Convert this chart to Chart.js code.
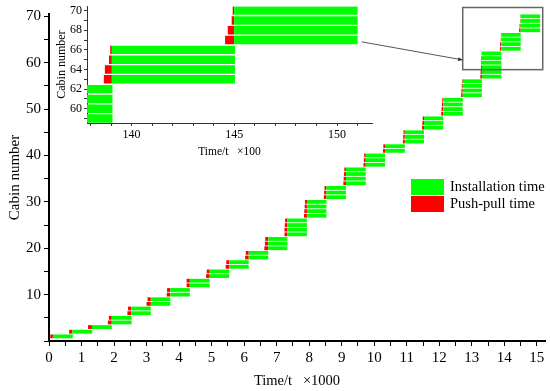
<!DOCTYPE html>
<html>
<head>
<meta charset="utf-8">
<script src="https://cdn.jsdelivr.net/npm/chart.js@4.4.0/dist/chart.umd.min.js"></script>
<style>
  body { margin: 0; background: #fff; }
  #wrap { position: relative; width: 550px; height: 391px; }
  #mainChart { position: absolute; left: 0; top: 0; }
  #insetChart { position: absolute; left: 55px; top: -3px; }
</style>
</head>
<body>
<div id="wrap">
  <canvas id="mainChart" width="550" height="391"></canvas>
  <canvas id="insetChart" width="325" height="163"></canvas>
</div>
<script>
// groups of cabins installed together (time in units of 1000 s)
const groupFirstCabin = [1, 2, 3, 4, 6, 8, 10, 12, 14, 16, 18, 20, 23, 27, 31, 34, 38, 41, 43, 46, 49, 53, 57, 63, 67];
const groupLastCabin  = [1, 2, 3, 5, 7, 9, 11, 13, 15, 17, 19, 22, 26, 30, 33, 37, 40, 42, 45, 48, 52, 56, 62, 66, 70];
const installStart = [0.12, 0.72, 1.32, 1.93, 2.53, 3.13, 3.73, 4.33, 4.94, 5.54, 6.14, 6.74, 7.33,
                      7.93, 8.53, 9.13, 9.74, 10.33, 10.94, 11.53, 12.12, 12.72, 13.31, 13.904, 14.499];
const installEnd   = [0.73, 1.33, 1.93, 2.54, 3.13, 3.73, 4.33, 4.94, 5.54, 6.14, 6.74, 7.33, 7.93,
                      8.53, 9.13, 9.74, 10.33, 10.94, 11.53, 12.12, 12.72, 13.31, 13.907, 14.503, 15.10];
// push-pull duration for cabin 1..70
const pushPullTime = [
  0.08, 0.10, 0.12,
  0.12, 0.09, 0.12, 0.10, 0.13, 0.10, 0.11, 0.10, 0.10, 0.10, 0.11, 0.09, 0.11, 0.09, 0.11, 0.09,
  0.12, 0.10, 0.09,
  0.09, 0.09, 0.08, 0.07,
  0.09, 0.08, 0.07, 0.06,
  0.08, 0.07, 0.06,
  0.08, 0.07, 0.06, 0.05,
  0.07, 0.06, 0.05,
  0.06, 0.05,
  0.06, 0.05, 0.04,
  0.06, 0.05, 0.04,
  0.06, 0.05, 0.04, 0.03,
  0.05, 0.04, 0.03, 0.02,
  0.05, 0.04, 0.03, 0.02, 0.02, 0.01,
  0.039, 0.034, 0.014, 0.008,
  0.044, 0.031, 0.012, 0.007
];
const xTicksMain = [0, 1, 2, 3, 4, 5, 6, 7, 8, 9, 10, 11, 12, 13, 14, 15];
const yTicksMain = [10, 20, 30, 40, 50, 60, 70];
const xTicksInset = [140, 145, 150];
const yTicksInset = [60, 62, 64, 66, 68, 70];

const GREEN = '#00ff00';
const RED = '#ff0000';
const FONT = "'Liberation Serif', 'Times New Roman', serif";

// build bars for each cabin
function buildBars(scale) {
    const install = [], push = [];
    groupFirstCabin.forEach((first, g) => {
        for (let c = first; c <= groupLastCabin[g]; c++) {
            const s = installStart[g] * scale;
            install.push({ x: [s, installEnd[g] * scale], y: c });
            push.push({ x: [s - pushPullTime[c - 1] * scale, s], y: c });
        }
    });
    return { install, push };
}

function axisStyle(fontSize, tickLen, lineW, color) {
    return {
        offset: false,
        border: { display: true, color: color, width: lineW },
        grid: { display: true, offset: false, drawOnChartArea: false, drawTicks: true, tickLength: tickLen, tickColor: color, tickWidth: 1 },
        ticks: { color: '#000', font: { family: FONT, size: fontSize }, padding: 2, includeBounds: false, autoSkip: false, maxRotation: 0 }
    };
}

// zoom box and connector on the main chart (data units)
const zoomBox = { x0: 12.72, x1: 15.18, y0: 58.5, y1: 71.9 };
const connector = { x0: 9.61, y0: 64.5, x1: 12.72, y1: 60.6 };

const annotatePlugin = {
    id: 'annotate',
    afterDraw(chart) {
        const { ctx, scales: { x, y } } = chart;
        ctx.save();
        ctx.strokeStyle = '#666';
        ctx.lineWidth = 1.5;
        const bx0 = x.getPixelForValue(zoomBox.x0), bx1 = x.getPixelForValue(zoomBox.x1);
        const by0 = y.getPixelForValue(zoomBox.y1), by1 = y.getPixelForValue(zoomBox.y0);
        ctx.strokeRect(bx0, by0, bx1 - bx0, by1 - by0);
        const ax = x.getPixelForValue(connector.x0), ay = y.getPixelForValue(connector.y0);
        const ex = x.getPixelForValue(connector.x1), ey = y.getPixelForValue(connector.y1);
        ctx.lineWidth = 1;
        ctx.strokeStyle = '#555';
        ctx.beginPath();
        ctx.moveTo(ax, ay);
        ctx.lineTo(ex, ey);
        ctx.stroke();
        const ang = Math.atan2(ey - ay, ex - ax);
        ctx.fillStyle = '#333';
        ctx.beginPath();
        ctx.moveTo(ex, ey);
        ctx.lineTo(ex - 5 * Math.cos(ang - 0.4), ey - 5 * Math.sin(ang - 0.4));
        ctx.lineTo(ex - 5 * Math.cos(ang + 0.4), ey - 5 * Math.sin(ang + 0.4));
        ctx.closePath();
        ctx.fill();

        // legend
        const items = [['Installation time', GREEN, 179], ['Push-pull time', RED, 196]];
        ctx.font = '14.5px ' + FONT;
        ctx.textBaseline = 'middle';
        items.forEach(([label, color, top]) => {
            ctx.fillStyle = color;
            ctx.fillRect(411, top, 33, 16);
            ctx.fillStyle = '#000';
            ctx.fillText(label, 450, top + 8);
        });
        ctx.restore();
    }
};

const mainBars = buildBars(1);
const mainX = axisStyle(15, 5, 2, '#000');
const mainY = axisStyle(15, 5, 2, '#000');

new Chart(document.getElementById('mainChart'), {
    type: 'bar',
    data: {
        datasets: [
            { label: 'Installation time', data: mainBars.install, backgroundColor: GREEN, grouped: false },
            { label: 'Push-pull time', data: mainBars.push, backgroundColor: RED, grouped: false }
        ]
    },
    options: {
        indexAxis: 'y',
        responsive: false,
        animation: false,
        barPercentage: 0.82,
        categoryPercentage: 1,
        layout: { padding: { left: 0, right: 5, top: 14, bottom: 0 } },
        plugins: { legend: { display: false }, tooltip: { enabled: false } },
        scales: {
            x: {
                type: 'linear', min: 0, max: 15.25,
                ...mainX,
                ticks: { ...mainX.ticks, stepSize: 0.5, padding: 3,
                    callback: v => xTicksMain.includes(v) ? String(v) : '' },
                title: { display: true, text: 'Time/t   \u00d71000', color: '#000',
                    font: { family: FONT, size: 14.5 }, padding: { top: 0, bottom: 1 } },
                afterFit: s => { s.height = 50; }
            },
            y: {
                type: 'linear', min: 0, max: 70.5,
                ...mainY,
                ticks: { ...mainY.ticks, stepSize: 5, padding: 3,
                    callback: v => yTicksMain.includes(v) ? String(v) : '' },
                title: { display: true, text: 'Cabin number', color: '#000',
                    font: { family: FONT, size: 15 }, padding: { top: 6, bottom: 0 } },
                afterFit: s => { s.width = 49; }
            }
        }
    },
    plugins: [annotatePlugin]
});

// inset: same data, time in units of 100 s
const insetBars = buildBars(10);
const insX = axisStyle(12, 3, 1, '#333');
const insY = axisStyle(12, 3, 1, '#333');

new Chart(document.getElementById('insetChart'), {
    type: 'bar',
    data: {
        datasets: [
            { data: insetBars.install, backgroundColor: GREEN, grouped: false },
            { data: insetBars.push, backgroundColor: RED, grouped: false }
        ]
    },
    options: {
        indexAxis: 'y',
        responsive: false,
        animation: false,
        barPercentage: 0.86,
        categoryPercentage: 1,
        layout: { padding: { left: 0, right: 8, top: 7, bottom: 0 } },
        plugins: { legend: { display: false }, tooltip: { enabled: false } },
        scales: {
            x: {
                type: 'linear', min: 137.83, max: 151.7,
                ...insX,
                ticks: { ...insX.ticks, stepSize: 1,
                    callback: v => xTicksInset.includes(v) ? String(v) : '' },
                title: { display: true, text: 'Time/t   \u00d7100', color: '#000',
                    font: { family: FONT, size: 11.5 }, padding: { top: 0, bottom: 1 } },
                afterFit: s => { s.height = 37; }
            },
            y: {
                type: 'linear', min: 58.55, max: 70.45,
                ...insY,
                ticks: { ...insY.ticks, stepSize: 1,
                    callback: v => yTicksInset.includes(v) ? String(v) : '' },
                title: { display: true, text: 'Cabin number', color: '#000',
                    font: { family: FONT, size: 12 }, padding: { top: 0, bottom: 0 } },
                afterFit: s => { s.width = 32; }
            }
        }
    }
});
</script>
</body>
</html>
